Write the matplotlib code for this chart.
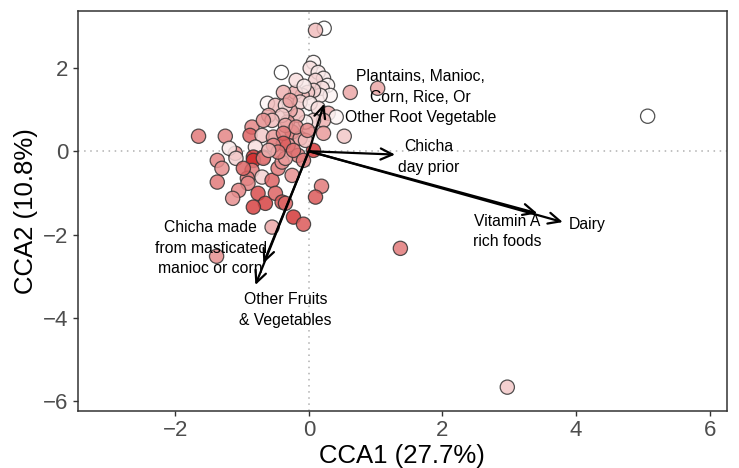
import numpy as np
import matplotlib
matplotlib.use("Agg")
import matplotlib.pyplot as plt
from matplotlib.colors import LinearSegmentedColormap

plt.rcParams['font.family'] = ['Liberation Sans', 'DejaVu Sans']

# site scores (CCA1, CCA2) and fill gradient value per household
site_x = [0.07, 0.02, 0.14, 0.22, 0.10, 0.28, 0.20, 0.32, 0.17, 0.07,
          -0.02, -0.10, -0.20, -0.13, 0.02, 0.14, 0.29, 0.41, 0.22, 0.07,
          -0.05, -0.17, -0.28, -0.32, -0.25, -0.13, -0.31, -0.16, 0.07, 0.22,
          -0.05, -0.41, -0.38, -0.62, -0.50, -0.35, -0.60, -0.40, -0.55, -0.35,
          -0.85, -0.88, -0.70, -0.53, -0.38, -0.38, -0.53, -0.80, -1.10, -1.25,
          -0.83, -0.68, -1.65, -1.19, -1.37, -1.30, -1.37, -1.09, -0.83, -0.68,
          -0.85, -0.70, -0.92, -0.91, -0.55, -0.46, -0.40, -0.35, -0.76, -0.65,
          -0.83, -0.50, -0.40, -0.55, -1.38, 0.19, 0.10, -0.23, -0.08, -0.25,
          -0.35, 0.62, 1.03, 0.53, 0.23, 0.10, 5.07, 1.37, 2.97, -0.19,
          -0.02, -0.23, -0.08, -0.46, -0.60, -0.98, -1.05, -1.14, -0.68, -0.19,
          -0.07, -0.28]
site_y = [2.13, 1.99, 1.89, 1.75, 1.70, 1.58, 1.51, 1.34, 1.34, 1.46,
          1.41, 1.34, 1.41, 1.18, 1.15, 1.03, 0.91, 0.82, 0.74, 0.74,
          0.70, 0.86, 0.98, 0.70, 0.46, 0.31, 0.14, -0.10, 0.02, 0.43,
          0.26, 1.89, 1.41, 1.15, 1.10, 1.10, 0.86, 0.86, 0.74, 0.62,
          0.58, 0.38, 0.38, 0.34, 0.43, 0.19, 0.14, 0.10, -0.05, 0.36,
          -0.14, -0.14, 0.36, 0.07, -0.22, -0.41, -0.74, -0.17, -0.22, -0.17,
          -0.46, -0.62, -0.65, -0.77, -0.70, -0.41, -0.26, -0.17, -1.01, -1.25,
          -1.34, -1.01, -1.22, -1.82, -2.52, -0.84, -1.10, -1.58, -1.75, -0.58,
          -1.25, 1.41, 1.51, 0.36, 2.95, 2.90, 0.84, -2.33, -5.66, 0.58,
          0.50, 0.02, -0.22, -0.02, 0.02, -0.41, -0.94, -1.13, 0.74, 1.70,
          1.56, 1.22]
site_fill = [0.05, 0.15, 0.10, 0.10, 0.20, 0.05, 0.15, 0.05, 0.10, 0.20,
             0.25, 0.30, 0.35, 0.20, 0.10, 0.15, 0.40, 0.05, 0.35, 0.20,
             0.05, 0.30, 0.40, 0.45, 0.60, 0.45, 0.50, 0.55, 0.90, 0.45,
             0.30, 0.00, 0.35, 0.05, 0.30, 0.15, 0.40, 0.25, 0.30, 0.40,
             0.55, 0.70, 0.25, 0.45, 0.60, 0.75, 0.55, 0.15, 0.50, 0.55,
             0.90, 0.70, 0.60, 0.10, 0.55, 0.50, 0.60, 0.20, 0.95, 0.60,
             0.60, 0.20, 0.60, 0.55, 0.70, 0.60, 0.50, 0.45, 0.80, 0.85,
             0.85, 0.70, 0.75, 0.40, 0.50, 0.60, 0.75, 0.90, 0.75, 0.50,
             0.70, 0.40, 0.40, 0.25, 0.00, 0.30, 0.00, 0.60, 0.25, 0.50,
             0.55, 0.65, 0.60, 0.60, 0.35, 0.70, 0.55, 0.50, 0.50, 0.15,
             0.10, 0.45]

# biplot arrows for the food variables
var_names = ["Plantains, Manioc,\nCorn, Rice, Or\nOther Root Vegetable",
             "Chicha\nday prior",
             "Vitamin A\nrich foods",
             "Dairy",
             "Chicha made\nfrom masticated\nmanioc or corn",
             "Other Fruits\n& Vegetables"]
var_x = [0.23, 1.29, 3.42, 3.80, -0.68, -0.80]
var_y = [1.14, -0.08, -1.49, -1.70, -2.69, -3.21]
label_x = [1.67, 1.79, 2.97, 4.17, -1.47, -0.35]
label_y = [1.30, -0.14, -1.92, -1.75, -2.33, -3.81]

cmap = LinearSegmentedColormap.from_list("wr", ["#FFFFFF", "#CF2222"])

fig = plt.figure(figsize=(7.39, 4.68), dpi=100)
ax = fig.add_axes([0.105, 0.122, 0.879, 0.855])

ax.axhline(0, color="#B0B0B0", lw=1.1, ls=(0, (1, 3)), zorder=0)
ax.axvline(0, color="#B0B0B0", lw=1.1, ls=(0, (1, 3)), zorder=0)

ax.scatter(site_x, site_y, c=site_fill, cmap=cmap, vmin=0, vmax=1,
           s=105, alpha=0.85, edgecolors="#333333", linewidths=0.9, zorder=2)

for vx, vy in zip(var_x, var_y):
    ax.annotate("", xy=(vx, vy), xytext=(0, 0),
                arrowprops=dict(arrowstyle="->,head_length=0.85,head_width=0.4",
                                lw=1.6, color="black", shrinkA=0, shrinkB=0),
                zorder=3)

for name, lx, ly in zip(var_names, label_x, label_y):
    ax.text(lx, ly, name, ha="center", va="center", fontsize=11.3,
            linespacing=1.45, color="black", zorder=4)

ax.set_xlim(-3.46, 6.26)
ax.set_ylim(-6.23, 3.37)
ax.set_xticks([-2, 0, 2, 4, 6])
ax.set_yticks([2, 0, -2, -4, -6])
ax.set_xticklabels(["\u22122", "0", "2", "4", "6"])
ax.set_yticklabels(["2", "0", "\u22122", "\u22124", "\u22126"])
ax.tick_params(labelsize=16, labelcolor="#4D4D4D", color="#333333",
               length=3.5, width=1, pad=3)
for sp in ax.spines.values():
    sp.set_color("#333333")
    sp.set_linewidth(1.1)

ax.set_xlabel("CCA1 (27.7%)", fontsize=18.5, labelpad=2)
ax.set_ylabel("CCA2 (10.8%)", fontsize=18.5, labelpad=4)

fig.savefig("out.png", dpi=100)
